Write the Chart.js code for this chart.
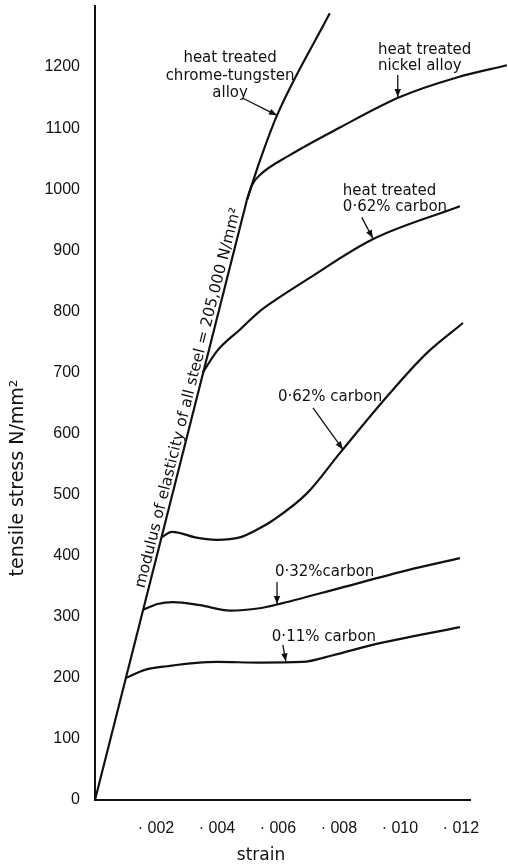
<!DOCTYPE html>
<html><head><meta charset="utf-8">
<style>html,body{margin:0;padding:0;background:#fff;overflow:hidden}#wrap{width:508px;height:867px}</style>
<script src="https://cdn.jsdelivr.net/npm/chart.js@4.4.0/dist/chart.umd.min.js"></script>
</head><body><div id="wrap"><canvas id="c" width="508" height="867"></canvas></div>
<script>
// ---- data (strain, tensile stress N/mm²) ----
const yTicks = [0,100,200,300,400,500,600,700,800,900,1000,1100,1200];
const yTickLabels = ['0','100','200','300','400','500','600','700','800','900','1000','1100','1200'];
const xTicks = [0.002,0.004,0.006,0.008,0.010,0.012];
const xTickLabels = ['· 002','· 004','· 006','· 008','· 010','· 012'];

const elasticLine = [[0,0],[0.00498,982]];
const chromeTungsten = [[0.00498,982],[0.00541,1047],[0.00597,1121],[0.0077,1288]];
const nickelAlloy = [[0.00498,982],[0.00515,1007],[0.0054,1023],[0.00636,1055],[0.00803,1101],[0.01,1151],[0.01187,1183],[0.01351,1203]];
const htCarbon062 = [[0.00354,700],[0.004,735],[0.00475,770],[0.0054,800],[0.0059,818],[0.00695,852],[0.00911,918],[0.01197,972]];
const carbon062 = [[0.00218,430],[0.00252,439],[0.00279,437],[0.00328,430],[0.004,426],[0.00475,430],[0.0054,445],[0.00584,458],[0.00695,502],[0.00803,568],[0.00967,666],[0.01089,732],[0.01207,781]];
const carbon032 = [[0.00157,311],[0.00205,321],[0.00256,324],[0.00344,319],[0.00443,310],[0.0054,314],[0.00597,320],[0.00803,347],[0.01023,376],[0.01197,396]];
const carbon011 = [[0.00102,200],[0.00164,213],[0.00236,219],[0.004,226],[0.0054,225],[0.0068,226],[0.0078,237],[0.0091,254],[0.01197,283]];

const seriesList = [
  {name:'modulus of elasticity', pts:elasticLine, tension:0},
  {name:'heat treated chrome-tungsten alloy', pts:chromeTungsten},
  {name:'heat treated nickel alloy', pts:nickelAlloy},
  {name:'heat treated 0·62% carbon', pts:htCarbon062},
  {name:'0·62% carbon', pts:carbon062},
  {name:'0·32% carbon', pts:carbon032},
  {name:'0·11% carbon', pts:carbon011}
];

// ---- annotation layout (data coordinates) ----
const labelFont = '15px "DejaVu Sans"';
const annotations = [
  {lines:['heat treated','chrome-tungsten','alloy'], at:[0.00443,1214], align:'center', lh:17.5, arrow:[[0.00485,1149],[0.00597,1121]]},
  {lines:['heat treated','nickel alloy'], at:[0.00928,1227], align:'left', lh:15.5, arrow:[[0.00993,1187],[0.00993,1151]]},
  {lines:['heat treated','0·62% carbon'], at:[0.00813,997], align:'left', lh:16, arrow:[[0.00875,954],[0.00911,920]]},
  {lines:['0·62% carbon'], at:[0.006,660], align:'left', lh:16, arrow:[[0.00715,642],[0.00813,574]]},
  {lines:['0·32%carbon'], at:[0.0059,373], align:'left', lh:16, arrow:[[0.00597,357],[0.00597,321]]},
  {lines:['0·11% carbon'], at:[0.0058,267], align:'left', lh:16, arrow:[[0.00616,254],[0.00626,227]]}
];
const modulusText = 'modulus of elasticity of all steel = 205,000 N/mm²';
const modulusCenterStress = 655;

const INK = '#111';

const annotPlugin = {
  id:'annot',
  afterDatasetsDraw(chart){
    const {ctx, scales:{x, y}} = chart;
    const P = (s,v)=>[x.getPixelForValue(s), y.getPixelForValue(v)];
    ctx.save();
    ctx.fillStyle = INK; ctx.strokeStyle = INK;
    ctx.font = labelFont;
    ctx.textBaseline = 'middle';
    annotations.forEach(a=>{
      const [px,py] = P(a.at[0], a.at[1]);
      ctx.textAlign = a.align;
      a.lines.forEach((t,i)=>ctx.fillText(t, px, py + i*a.lh));
      const [x0,y0] = P(a.arrow[0][0], a.arrow[0][1]);
      const [x1,y1] = P(a.arrow[1][0], a.arrow[1][1]);
      ctx.lineWidth = 1.3;
      ctx.beginPath(); ctx.moveTo(x0,y0); ctx.lineTo(x1,y1); ctx.stroke();
      const ang = Math.atan2(y1-y0, x1-x0);
      const L = 8, W = 3.2;
      ctx.beginPath();
      ctx.moveTo(x1,y1);
      ctx.lineTo(x1 - L*Math.cos(ang) + W*Math.sin(ang), y1 - L*Math.sin(ang) - W*Math.cos(ang));
      ctx.lineTo(x1 - L*Math.cos(ang) - W*Math.sin(ang), y1 - L*Math.sin(ang) + W*Math.cos(ang));
      ctx.closePath(); ctx.fill();
    });
    // modulus text along elastic line
    const [ax,ay] = P(elasticLine[0][0], elasticLine[0][1]);
    const [bx,by] = P(elasticLine[1][0], elasticLine[1][1]);
    const f = modulusCenterStress / elasticLine[1][1];
    const cx = ax + (bx-ax)*f, cy = ay + (by-ay)*f;
    const ang = Math.atan2(by-ay, bx-ax);
    const len = Math.hypot(bx-ax, by-ay);
    const dx = (bx-ax)/len, dy = (by-ay)/len;
    const nx = dy, ny = -dx; // left side normal
    const off = 4;
    ctx.translate(cx + nx*off, cy + ny*off);
    ctx.rotate(ang);
    ctx.textAlign = 'center'; ctx.textBaseline = 'alphabetic';
    ctx.font = '15.5px "DejaVu Sans"';
    ctx.fillText(modulusText, 0, 0);
    ctx.restore();
    // axis titles
    ctx.save();
    ctx.fillStyle = INK;
    ctx.font = '19px "DejaVu Sans"';
    ctx.textAlign = 'center'; ctx.textBaseline = 'middle';
    ctx.translate(18, 478); ctx.rotate(-Math.PI/2);
    ctx.fillText('tensile stress N/mm²', 0, 0);
    ctx.restore();
    ctx.save();
    ctx.fillStyle = INK;
    ctx.font = '17px "DejaVu Sans"';
    ctx.textAlign = 'center'; ctx.textBaseline = 'middle';
    ctx.fillText('strain', 261, 856);
    ctx.restore();
  }
};

new Chart(document.getElementById('c'), {
  type:'line',
  data:{
    datasets: seriesList.map(s=>({
      label:s.name,
      data:s.pts.map(p=>({x:p[0], y:p[1]})),
      borderColor:INK, borderWidth:2.2,
      pointRadius:0, fill:false,
      cubicInterpolationMode: s.tension===0 ? 'default' : 'monotone',
      tension: s.tension===0 ? 0 : 0.4,
      clip:false
    }))
  },
  options:{
    responsive:false, animation:false, devicePixelRatio:1,
    layout:{padding:{top:6,right:38,left:0,bottom:0}},
    plugins:{legend:{display:false}, tooltip:{enabled:false}},
    scales:{
      x:{type:'linear', min:0, max:0.0123,
        grid:{display:false, drawTicks:false},
        border:{display:true, color:INK, width:2},
        afterBuildTicks(ax){ ax.ticks = xTicks.map(v=>({value:v})); },
        afterFit(ax){ ax.height = 67; ax.paddingLeft = 0; ax.paddingRight = 0; },
        ticks:{padding:19, color:INK, font:{family:'"Liberation Sans"', size:16}, maxRotation:0, autoSkip:false,
          callback:(v,i)=>xTickLabels[i]}
      },
      y:{type:'linear', min:0, max:1300,
        grid:{display:false, drawTicks:false},
        border:{display:true, color:INK, width:2},
        afterBuildTicks(ax){ ax.ticks = yTicks.map(v=>({value:v})); },
        afterFit(ax){ ax.width = 95; ax.paddingTop = 0; ax.paddingBottom = 0; },
        ticks:{padding:15, color:INK, font:{family:'"Liberation Sans"', size:16}, autoSkip:false,
          callback:(v,i)=>yTickLabels[i]}
      }
    }
  },
  plugins:[annotPlugin]
});
</script></body></html>
